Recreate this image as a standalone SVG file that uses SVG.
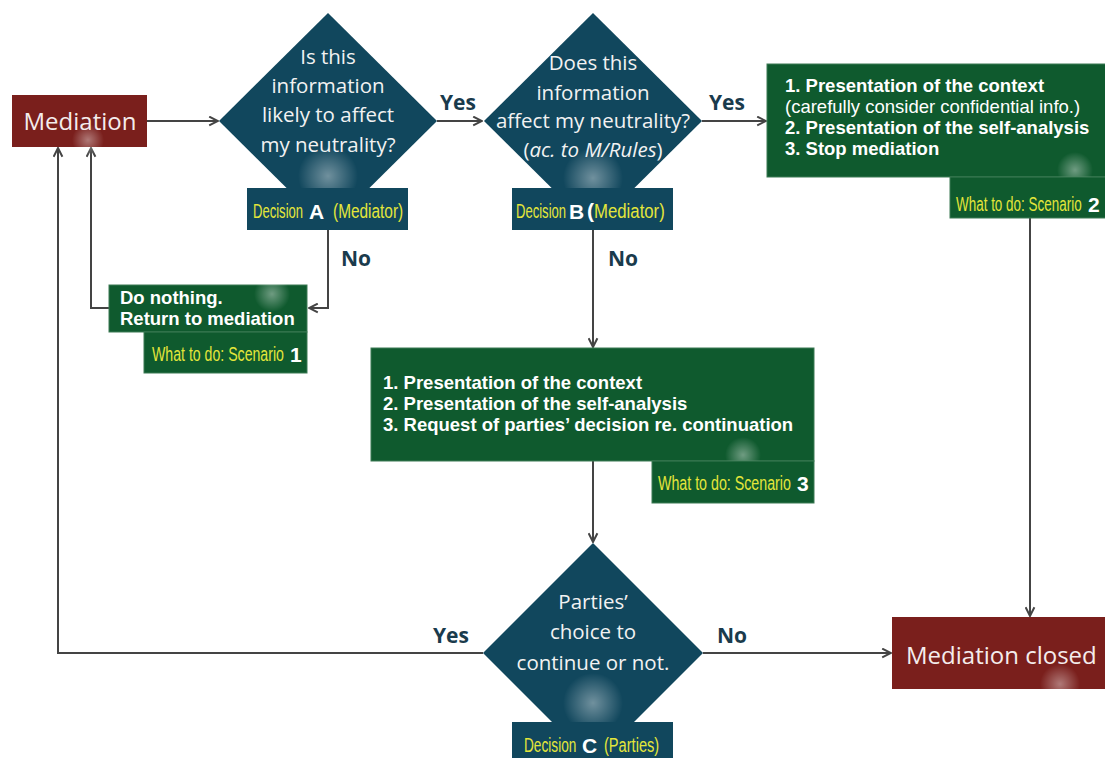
<svg xmlns="http://www.w3.org/2000/svg" width="1105" height="758" viewBox="0 0 1105 758">
<style>
.red{fill:#7a1f1c}
.dia{fill:#11475d}
.grn{fill:#0f5a2e;stroke:#3c7a55;stroke-width:1}
.dtext{font-family:"Open Sans",sans-serif;font-size:20.5px;fill:#f2f2f2;text-anchor:middle}
.btext{font-family:"Liberation Sans",Arial,sans-serif;font-size:18.5px;fill:#ffffff;font-weight:bold}
.rtext{font-family:"Liberation Sans",Arial,sans-serif;font-size:18.5px;fill:#ffffff}
.yel{font-family:"Liberation Sans",Arial,sans-serif;font-size:19.5px;fill:#e4e63a}
.big{font-family:"Liberation Sans",Arial,sans-serif;font-size:21px;font-weight:bold;fill:#ffffff}
.lab{font-family:"Open Sans",sans-serif;font-size:21px;font-weight:bold;fill:#1a3b4c}
.conn{fill:none;stroke:#444444;stroke-width:2}
.title{font-family:"Open Sans",sans-serif;font-size:24px;fill:#f4ecec}
</style>
<defs>
<marker id="arr" viewBox="0 0 10 10" refX="9" refY="5" markerWidth="11" markerHeight="11" markerUnits="userSpaceOnUse" orient="auto">
<path d="M1,1 L9,5 L1,9" fill="none" stroke="#444444" stroke-width="1.8"/>
</marker>
<radialGradient id="glow">
<stop offset="0" stop-color="#ffffff" stop-opacity="0.4"/>
<stop offset="1" stop-color="#ffffff" stop-opacity="0"/>
</radialGradient>
</defs>
<rect width="1105" height="758" fill="#ffffff"/>

<g id="connectors" class="conn">
<path d="M147,121 L218,121" marker-end="url(#arr)"/>
<path d="M437,121 L482,121" marker-end="url(#arr)"/>
<path d="M702,121 L766,121" marker-end="url(#arr)"/>
<path d="M328,230 L328,308 L309,308" marker-end="url(#arr)"/>
<path d="M109,308 L91,308 L91,148" marker-end="url(#arr)"/>
<path d="M593,230 L593,347" marker-end="url(#arr)"/>
<path d="M593,461 L593,542" marker-end="url(#arr)"/>
<path d="M1030,218 L1030,616" marker-end="url(#arr)"/>
<path d="M483,653 L58,653 L58,148" marker-end="url(#arr)"/>
<path d="M703,653 L891,653" marker-end="url(#arr)"/>
</g>

<g id="labels">
<text class="lab" x="458" y="110" text-anchor="middle">Yes</text>
<text class="lab" x="727" y="110" text-anchor="middle">Yes</text>
<text class="lab" x="356" y="266" text-anchor="middle">No</text>
<text class="lab" x="623" y="266" text-anchor="middle">No</text>
<text class="lab" x="451" y="643" text-anchor="middle">Yes</text>
<text class="lab" x="732" y="643" text-anchor="middle">No</text>
</g>

<g id="mediation">
<rect class="red" x="12" y="95" width="135" height="52"/>
<circle cx="88" cy="140" r="16" fill="url(#glow)"/>
<text class="title" x="80" y="130" text-anchor="middle">Mediation</text>
</g>

<g id="decisionA">
<polygon class="dia" points="328,13 437,121 328,229 219,121"/>
<circle cx="328" cy="176" r="30" fill="url(#glow)"/>
<text class="dtext" x="328" y="64">Is this</text>
<text class="dtext" x="328" y="93">information</text>
<text class="dtext" x="328" y="122">likely to affect</text>
<text class="dtext" x="328" y="152">my neutrality?</text>
<rect class="dia" x="247" y="188" width="161" height="42"/>
<text class="yel" transform="translate(253,218) scale(0.67,1)">Decision</text>
<text class="big" x="309" y="219">A</text>
<text class="yel" transform="translate(333,218) scale(0.79,1)">(Mediator)</text>
</g>

<g id="decisionB">
<polygon class="dia" points="593,13 702,121 593,229 484,121"/>
<circle cx="593" cy="178" r="30" fill="url(#glow)"/>
<text class="dtext" x="593" y="70" font-size="19">Does this</text>
<text class="dtext" x="593" y="100" font-size="19">information</text>
<text class="dtext" x="593" y="128" font-size="19">affect my neutrality?</text>
<text class="dtext" x="593" y="157" font-size="19">(<tspan font-style="italic">ac. to M/Rules</tspan>)</text>
<rect class="dia" x="512" y="188" width="161" height="42"/>
<text class="yel" transform="translate(516,218) scale(0.67,1)">Decision</text>
<text class="big" x="569" y="219">B</text>
<text class="big" x="587" y="218" font-size="19">(</text>
<text class="yel" transform="translate(594,218) scale(0.86,1)">Mediator)</text>
</g>

<g id="scenario2">
<rect class="grn" x="767" y="64" width="345" height="113"/>
<circle cx="1075" cy="170" r="18" fill="url(#glow)"/>
<text class="btext" x="785" y="92">1. Presentation of the context</text>
<text class="rtext" x="785" y="113">(carefully consider confidential info.)</text>
<text class="btext" x="785" y="134">2. Presentation of the self-analysis</text>
<text class="btext" x="785" y="155">3. Stop mediation</text>
<rect class="grn" x="950" y="177" width="162" height="41"/>
<text class="yel" transform="translate(956,211) scale(0.69,1)">What to do: Scenario</text>
<text class="big" x="1088" y="212">2</text>
</g>

<g id="scenario1">
<rect class="grn" x="109" y="285" width="198" height="47"/>
<circle cx="272" cy="294" r="18" fill="url(#glow)"/>
<text class="btext" x="120" y="304">Do nothing.</text>
<text class="btext" x="120" y="325">Return to mediation</text>
<rect class="grn" x="144" y="332" width="163" height="41"/>
<text class="yel" transform="translate(152,361) scale(0.725,1)">What to do: Scenario</text>
<text class="big" x="290" y="362">1</text>
</g>

<g id="scenario3">
<rect class="grn" x="371" y="348" width="443" height="113"/>
<circle cx="743" cy="455" r="18" fill="url(#glow)"/>
<text class="btext" x="383" y="389">1. Presentation of the context</text>
<text class="btext" x="383" y="410">2. Presentation of the self-analysis</text>
<text class="btext" x="383" y="431">3. Request of parties’ decision re. continuation</text>
<rect class="grn" x="652" y="461" width="162" height="42"/>
<text class="yel" transform="translate(658,490) scale(0.73,1)">What to do: Scenario</text>
<text class="big" x="797" y="491">3</text>
</g>

<g id="decisionC">
<polygon class="dia" points="593,543 703,653 593,763 483,653"/>
<circle cx="593" cy="703" r="30" fill="url(#glow)"/>
<text class="dtext" x="593" y="609">Parties’</text>
<text class="dtext" x="593" y="639">choice to</text>
<text class="dtext" x="593" y="670">continue or not.</text>
<rect class="dia" x="512" y="722" width="161" height="40"/>
<text class="yel" transform="translate(524,752) scale(0.7,1)">Decision</text>
<text class="big" x="582" y="753">C</text>
<text class="yel" transform="translate(604,752) scale(0.75,1)">(Parties)</text>
</g>

<g id="closed">
<rect class="red" x="892" y="617" width="220" height="72"/>
<circle cx="1060" cy="684" r="20" fill="url(#glow)"/>
<text class="title" x="906" y="664">Mediation closed</text>
</g>
</svg>
